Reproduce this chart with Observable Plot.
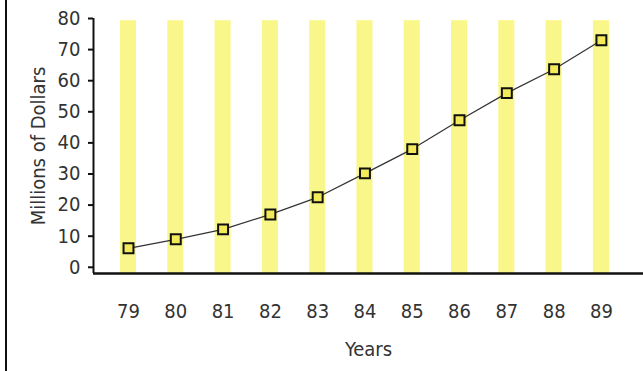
<!DOCTYPE html>
<html>
<head>
<meta charset="utf-8">
<script src="https://cdn.jsdelivr.net/npm/d3@7"></script>
<script src="https://cdn.jsdelivr.net/npm/@observablehq/plot@0.6"></script>
<style>
  html, body { margin: 0; padding: 0; background: #fff; }
  #wrap { position: relative; width: 643px; height: 371px; overflow: hidden; }
  #border { position: absolute; left: 5px; top: 0; width: 2px; height: 371px; background: #111; }
  #chart { position: absolute; left: 0; top: 0; }
  svg, svg text { font-family: "DejaVu Sans Condensed", "DejaVu Sans", sans-serif; font-stretch: condensed; }
</style>
</head>
<body>
<div id="wrap"><div id="chart"></div><div id="border"></div></div>
<script>
const years = [79, 80, 81, 82, 83, 84, 85, 86, 87, 88, 89];
const values = [6.1, 9, 12.2, 17, 22.5, 30.2, 38, 47.3, 56, 63.7, 73];
const yTicks = [0, 10, 20, 30, 40, 50, 60, 70, 80];

const data = years.map((y, i) => ({year: y, value: values[i]}));
const halfBar = 0.17;

const plot = Plot.plot({
  width: 643,
  height: 371,
  marginLeft: 93,
  marginRight: 0,
  marginTop: 18,
  marginBottom: 98,
  style: {fontSize: "20px", color: "#333", background: "transparent"},
  x: {type: "linear", domain: [78.26, 89.89]},
  y: {domain: [-2, 80]},
  marks: [
    Plot.rectY(years, {x1: d => d - halfBar, x2: d => d + halfBar, y1: -2, y2: 79.3, fill: "#faf78a"}),
    Plot.axisY({ticks: yTicks, tickSize: 5, tickPadding: 8, tickFormat: d => d, label: null, stroke: "#111", strokeWidth: 2, fill: "#333", fontSize: 20}),
    Plot.text(["Millions of Dollars"], {frameAnchor: "left", dx: -55, rotate: -90, textAnchor: "middle", fontSize: 20, fill: "#333"}),
    Plot.axisX({ticks: years, tickSize: 0, tickPadding: 30, tickFormat: d => d, label: null, fill: "#333", fontSize: 20}),
    Plot.text(["Years"], {frameAnchor: "bottom", dy: 82, fontSize: 20, fill: "#333"}),
    Plot.ruleX([78.26], {stroke: "#111", strokeWidth: 2}),
    Plot.ruleY([-2], {stroke: "#111", strokeWidth: 2.5}),
    Plot.line(data, {x: "year", y: "value", stroke: "#333", strokeWidth: 1.2}),
    Plot.dot(data, {x: "year", y: "value", symbol: "square", r: 5.6, fill: "#f3ea5a", stroke: "#111", strokeWidth: 2})
  ]
});
document.getElementById("chart").append(plot);
</script>
</body>
</html>
